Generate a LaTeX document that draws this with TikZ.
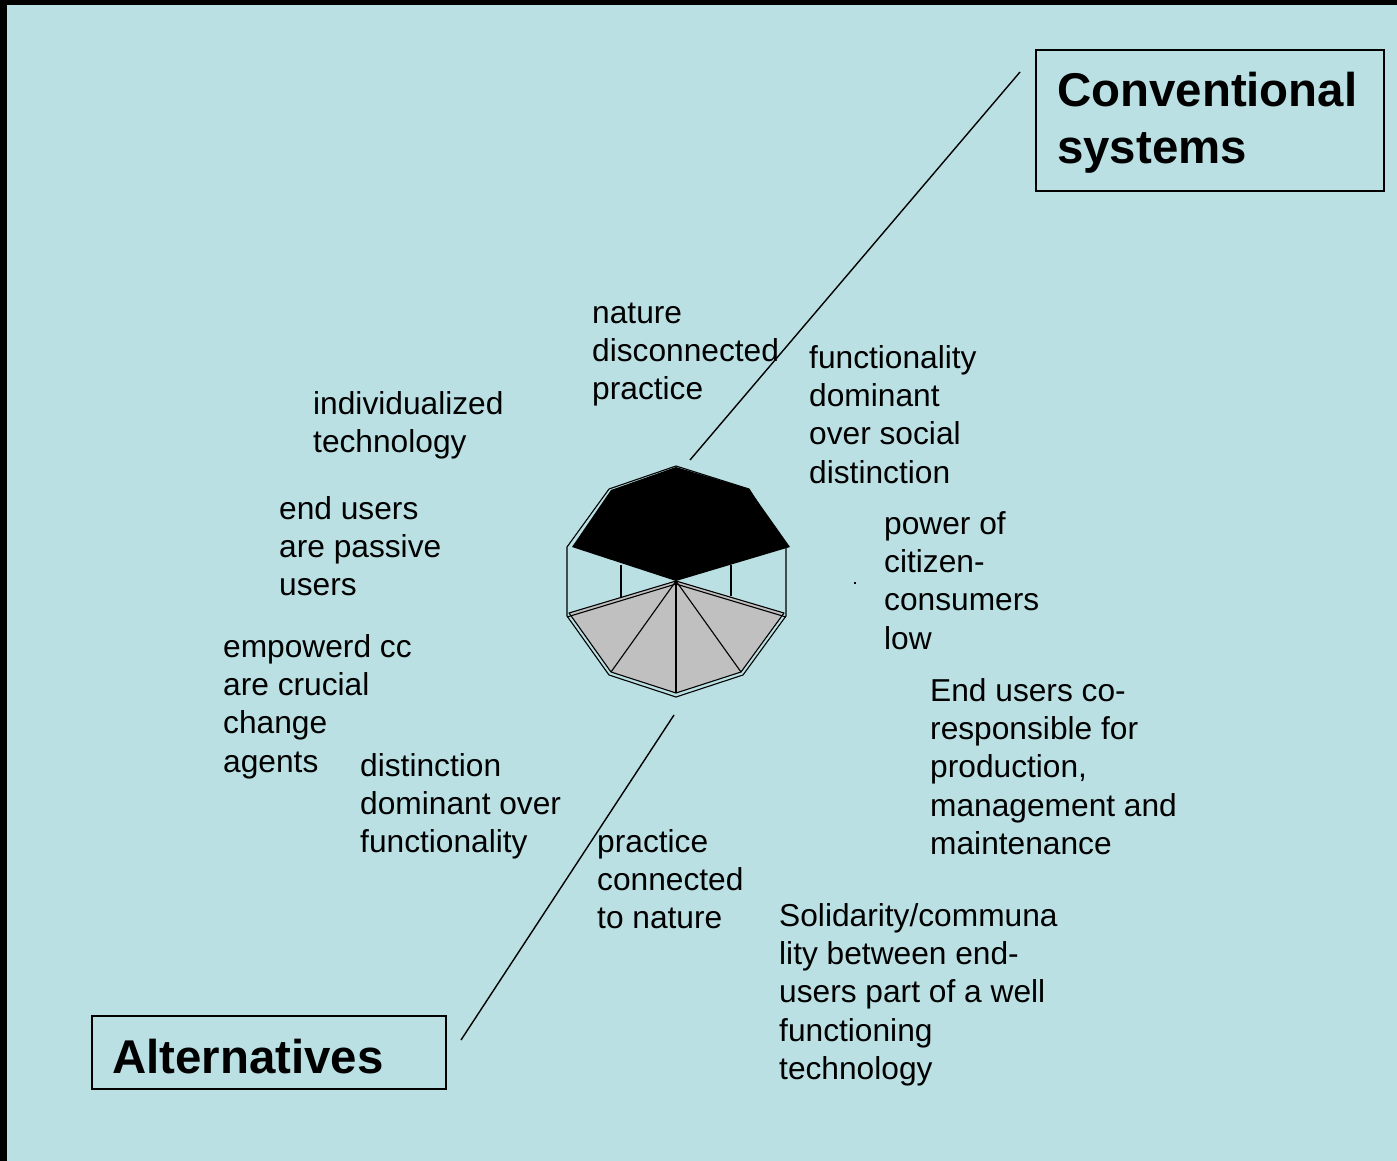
\documentclass[tikz,border=0pt]{standalone}
\usepackage{fontspec}
\setmainfont{Liberation Sans}
\definecolor{bgblue}{RGB}{186,224,227}
\definecolor{silver}{RGB}{192,192,192}
\newcommand\mltext[1]{\vtop{\halign{##\hfil\cr#1\crcr}}}
\tikzset{
  txt/.style={anchor=base west, inner sep=0pt, font=\fontsize{31.7}{38.4}\selectfont},
  ttl/.style={anchor=base west, inner sep=0pt, font=\fontsize{47.4}{56.5}\selectfont\bfseries},
  tbox/.style={draw=black, line width=1.6pt, anchor=north west, inner sep=0pt},
  conn/.style={draw=black, line width=1.4pt},
  edge/.style={draw=black, line width=1.1pt, line join=round}
}
\begin{document}
\begin{tikzpicture}[x=1pt,y=-1pt]
\useasboundingbox (0,0) rectangle (1397,1161);
\fill[black] (0,0) rectangle (1397,1161);
\fill[bgblue] (7,5) rectangle (1397,1161);

% title boxes
\node[tbox, minimum width=348pt, minimum height=141pt] (convbox) at (1035,49) {};
\node[ttl] (convtxt) at (1057,107) {\mltext{Conventional\cr systems}};
\node[tbox, minimum width=354pt, minimum height=73pt] (altbox) at (91,1015) {};
\node[ttl] (alttxt) at (112,1073) {Alternatives};

% connectors
\coordinate (c1a) at (1020,72);
\coordinate (c1b) at (690,460);
\coordinate (c2a) at (674,715);
\coordinate (c2b) at (461,1040);
\draw[conn] (c1a) -- (c1b);
\draw[conn] (c2a) -- (c2b);

% central polyhedron
\coordinate (ctr) at (676,581);
\draw[edge] (676,466) -- (749,489) -- (786,548) -- (786,616) -- (743,675) -- (676,697) -- (609,675) -- (567,616) -- (567,547) -- (609,489) -- cycle;
\draw[edge] (621,565) -- (621,597);
\draw[edge] (731,565) -- (731,596);
\filldraw[fill=silver, edge] (569,613) -- (ctr) -- (784,613) -- (741,672) -- (676,693) -- (611,672) -- cycle;
\draw[edge] (567,617) -- (676,584) -- (786,617);
\draw[edge] (ctr) -- (611,672);
\draw[edge] (ctr) -- (676,693);
\draw[edge] (ctr) -- (741,672);
\fill[black] (676,467) -- (749,489) -- (790,547) -- (ctr) -- (572,547) -- (611,490) -- cycle;
\fill[black] (854,582) rectangle (856,584);

% labels
\node[txt] (t1) at (592,323) {\mltext{nature\cr disconnected\cr practice}};
\node[txt] (t2) at (313,414) {\mltext{individualized\cr technology}};
\node[txt] (t3) at (809,368) {\mltext{functionality\cr dominant\cr over social\cr distinction}};
\node[txt] (t4) at (279,519) {\mltext{end users\cr are passive\cr users}};
\node[txt] (t5) at (884,534) {\mltext{power of\cr citizen-\cr consumers\cr low}};
\node[txt] (t6) at (223,657) {\mltext{empowerd cc\cr are crucial\cr change\cr agents}};
\node[txt] (t7) at (930,701) {\mltext{End users co-\cr responsible for\cr production,\cr management and\cr maintenance}};
\node[txt] (t8) at (360,776) {\mltext{distinction\cr dominant over\cr functionality}};
\node[txt] (t9) at (597,852) {\mltext{practice\cr connected\cr to nature}};
\node[txt] (t10) at (779,926) {\mltext{Solidarity/communa\cr lity between end-\cr users part of a well\cr functioning\cr technology}};
\end{tikzpicture}
\end{document}
